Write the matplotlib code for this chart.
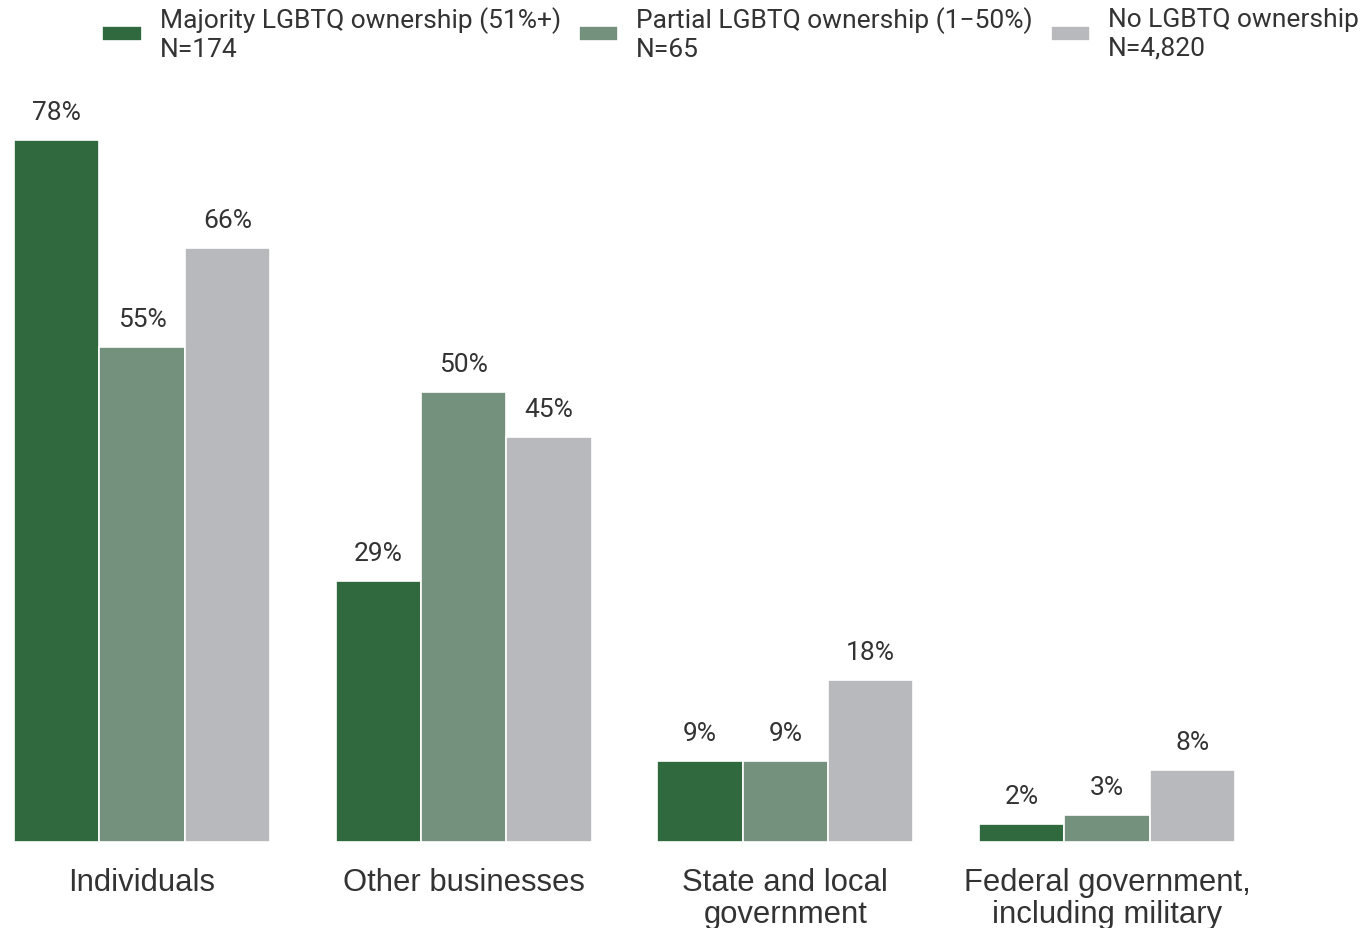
import numpy as np
import matplotlib
matplotlib.use("Agg")
from matplotlib import pyplot as plt

# Data
categories = ["Individuals", "Other businesses", "State and local\ngovernment",
              "Federal government,\nincluding military"]
series_names = ["Majority LGBTQ ownership (51%+)\nN=174",
                "Partial LGBTQ ownership (1\u221250%)\nN=65",
                "No LGBTQ ownership\nN=4,820"]
majority = [78, 29, 9, 2]
partial = [55, 50, 9, 3]
no_lgbtq = [66, 45, 18, 8]
colors = ["#31693f", "#73917c", "#b8b9bd"]

plt.rcParams['font.family'] = ['Roboto', 'DejaVu Sans']
text_color = "#333333"

fig = plt.figure(figsize=(13.7, 9.29), dpi=100)
W, H = 1370, 929
ax = fig.add_axes([14 / W, (H - 843) / H, (1235 - 14) / W, 720 / H])

x = np.arange(len(categories))
width = 0.2655
for k, vals in enumerate([majority, partial, no_lgbtq]):
    b = ax.bar(x + (k - 1) * width, vals, width, color=colors[k],
               edgecolor="white", linewidth=1.2, label=series_names[k])
    for rect, v in zip(b, vals):
        ax.annotate(f"{v}%", (rect.get_x() + rect.get_width() / 2, v),
                    xytext=(0, 20), textcoords="offset points",
                    ha="center", va="center", fontsize=19, color=text_color)

ax.set_xlim(-1.5 * width, 3 + 1.5 * width)
ax.set_ylim(0, 80)
ax.set_xticks(x)
ax.set_xticklabels(categories, fontsize=22.3, color=text_color,
                   family=['Liberation Sans', 'DejaVu Sans'], linespacing=1.1)
ax.tick_params(axis='x', length=0, pad=18)
ax.set_yticks([])
for s in ax.spines.values():
    s.set_visible(False)

fig.legend(loc="upper left", bbox_to_anchor=(102 / W, 1 - 7 / H), ncol=3,
           frameon=False, fontsize=19, borderpad=0, borderaxespad=0,
           handlelength=1.5, handleheight=0.45, handletextpad=0.68,
           columnspacing=0.68, labelcolor=text_color)

fig.savefig("out.png", dpi=100)
